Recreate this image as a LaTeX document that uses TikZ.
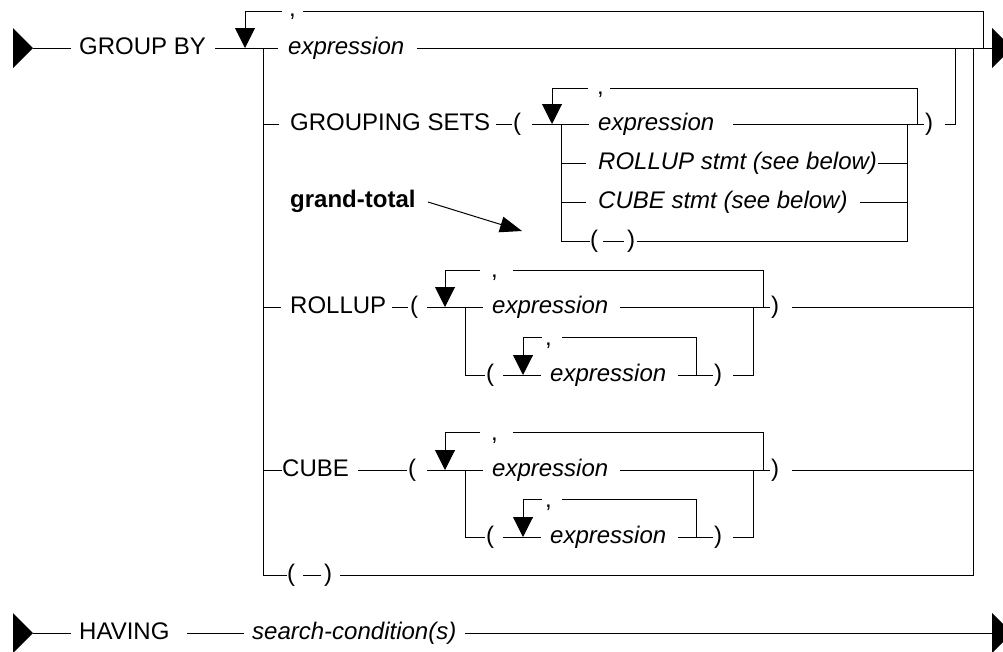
\documentclass[tikz,border=0pt]{standalone}
\usepackage{fontspec}
\setmainfont{Liberation Sans}
\usetikzlibrary{arrows.meta}
\newcommand{\rrfont}{\fontsize{24}{29}\selectfont}
\begin{document}
\begin{tikzpicture}[x=1pt,y=-1pt,
  rail/.style={line width=1pt,line cap=rect},
  loopdown/.style={line width=1pt,-{Triangle[length=20pt,width=20pt]}},
  kw/.style={inner sep=0pt,anchor=base west,font=\rrfont},
  ex/.style={inner sep=0pt,anchor=base west,font=\rrfont\itshape},
  bd/.style={inner sep=0pt,anchor=base west,font=\rrfont\bfseries},
  term/.style={fill=black},
]
\useasboundingbox (0,0) rectangle (1003,651);

% ---------- GROUP BY ----------
\node[kw] (gb) at (79,54) {GROUP BY};
\node[ex] (e1) at (288,54) {expression};
\node[kw] (c1) at (289,16) {,};
\fill[term] (13,28) -- (33,48) -- (13,68) -- cycle;
\fill[term] (992,28) -- (1012,48) -- (992,68) -- cycle;
\draw[rail] (33,48) -- (70,48);
\draw[rail] (215,48) -- (277,48);
\draw[rail] (417,48) -- (992,48);
\draw[rail] (983,48) -- (983,11) -- (303,11);
\draw[loopdown] (282,11) -- (245,11) -- (245,48);
\draw[rail] (263,48) -- (263,575);
\draw[rail] (973,48) -- (973,575);
\draw[rail] (955,48) -- (955,124) -- (945,124);

% ---------- GROUPING SETS ----------
\node[kw] (gs) at (290,130) {GROUPING SETS};
\node[kw] (lp1) at (513,130) {(};
\node[ex] (e2) at (598,130) {expression};
\node[kw] (c2) at (597,94) {,};
\node[kw] (rp1) at (925,130) {)};
\node[ex] (rs) at (598,169) {ROLLUP stmt (see below)};
\node[ex] (cs) at (598,208) {CUBE stmt (see below)};
\node[kw] (lp2) at (590,247) {(};
\node[kw] (rp2) at (627,247) {)};
\draw[rail] (263,124) -- (278,124);
\draw[rail] (496,124) -- (511,124);
\draw[rail] (532,124) -- (588,124);
\draw[rail] (733,124) -- (923,124);
\draw[rail] (917,124) -- (917,88) -- (610,88);
\draw[loopdown] (588,88) -- (552,88) -- (552,124);
\draw[rail] (561,124) -- (561,241) -- (589,241);
\draw[rail] (561,163) -- (585,163);
\draw[rail] (561,202) -- (585,202);
\draw[rail] (878,163) -- (907,163);
\draw[rail] (860,202) -- (907,202);
\draw[rail] (603,241) -- (623,241);
\draw[rail] (637,241) -- (907,241) -- (907,124);

% ---------- grand-total ----------
\node[bd] (gt) at (290,207) {grand-total};
\draw[line width=1pt,-{Triangle[length=22pt,width=16pt]}] (428,202) -- (522,231);

% ---------- ROLLUP ----------
\node[kw] (ro) at (290,313) {ROLLUP};
\node[kw] (lp3) at (410,313) {(};
\node[ex] (e3) at (492,313) {expression};
\node[kw] (c3) at (491,277) {,};
\node[kw] (rp3) at (771,313) {)};
\node[kw] (lp4) at (486,381) {(};
\node[ex] (e4) at (550,381) {expression};
\node[kw] (c4) at (545,345) {,};
\node[kw] (rp4) at (714,381) {)};
\draw[rail] (263,307) -- (280,307);
\draw[rail] (392,307) -- (407,307);
\draw[rail] (427,307) -- (482,307);
\draw[rail] (620,307) -- (769,307);
\draw[rail] (763,307) -- (763,270) -- (513,270);
\draw[loopdown] (480,270) -- (445,270) -- (445,307);
\draw[rail] (465,307) -- (465,375) -- (484,375);
\draw[rail] (503,375) -- (540,375);
\draw[rail] (678,375) -- (712,375);
\draw[rail] (696,375) -- (696,337) -- (562,337);
\draw[loopdown] (542,337) -- (523,337) -- (523,375);
\draw[rail] (733,375) -- (753,375) -- (753,307);
\draw[rail] (792,307) -- (973,307);

% ---------- CUBE ----------
\node[kw] (cu) at (282,476) {CUBE};
\node[kw] (lp5) at (408,476) {(};
\node[ex] (e5) at (492,476) {expression};
\node[kw] (c5) at (491,440) {,};
\node[kw] (rp5) at (771,476) {)};
\node[kw] (lp6) at (486,543) {(};
\node[ex] (e6) at (550,543) {expression};
\node[kw] (c6) at (545,507) {,};
\node[kw] (rp6) at (714,543) {)};
\draw[rail] (263,470) -- (281,470);
\draw[rail] (358,470) -- (406,470);
\draw[rail] (427,470) -- (482,470);
\draw[rail] (620,470) -- (769,470);
\draw[rail] (763,470) -- (763,432) -- (513,432);
\draw[loopdown] (480,432) -- (445,432) -- (445,470);
\draw[rail] (465,470) -- (465,537) -- (484,537);
\draw[rail] (503,537) -- (540,537);
\draw[rail] (678,537) -- (712,537);
\draw[rail] (696,537) -- (696,499) -- (562,499);
\draw[loopdown] (542,499) -- (523,499) -- (523,537);
\draw[rail] (733,537) -- (753,537) -- (753,470);
\draw[rail] (792,470) -- (973,470);

% ---------- ( ) ----------
\node[kw] (lp7) at (287,581) {(};
\node[kw] (rp7) at (324,581) {)};
\draw[rail] (263,575) -- (286,575);
\draw[rail] (303,575) -- (320,575);
\draw[rail] (340,575) -- (973,575);

% ---------- HAVING ----------
\node[kw] (hv) at (79,639) {HAVING};
\node[ex] (sc) at (252,639) {search-condition(s)};
\fill[term] (13,613) -- (33,633) -- (13,653) -- cycle;
\fill[term] (992,613) -- (1012,633) -- (992,653) -- cycle;
\draw[rail] (33,633) -- (70,633);
\draw[rail] (187,633) -- (243,633);
\draw[rail] (465,633) -- (992,633);
\end{tikzpicture}
\end{document}
